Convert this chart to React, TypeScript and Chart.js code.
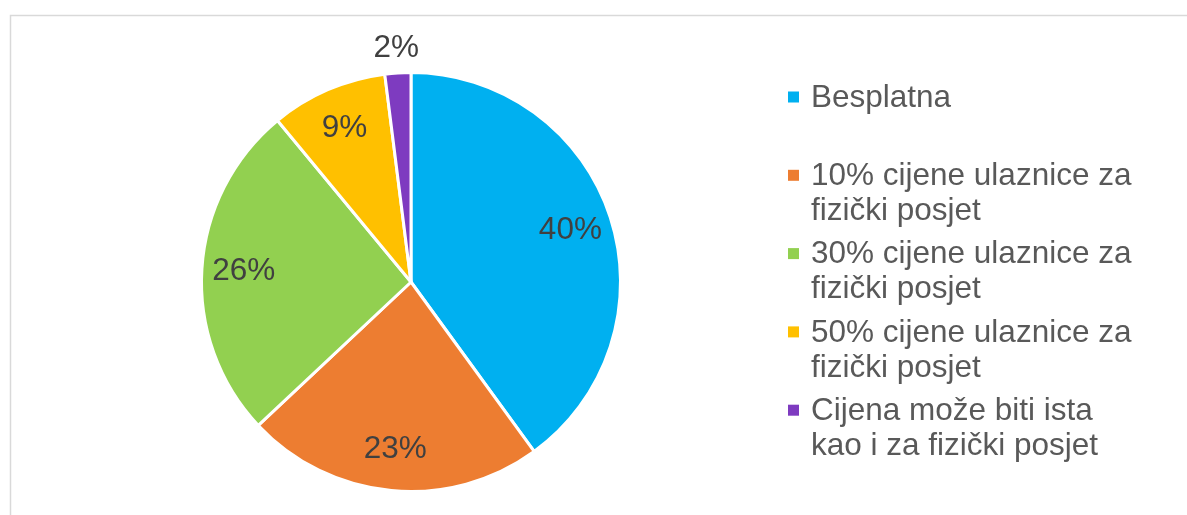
import React, { useEffect, useRef } from "react";
import { Chart, registerables } from "chart.js";

Chart.register(...registerables);

const categories = [
  "Besplatna",
  "10% cijene ulaznice za fizički posjet",
  "30% cijene ulaznice za fizički posjet",
  "50% cijene ulaznice za fizički posjet",
  "Cijena može biti ista kao i za fizički posjet",
];
const values = [40, 23, 26, 9, 2];
const valueLabels = ["40%", "23%", "26%", "9%", "2%"];
const colors = ["#00B0F0", "#ED7D31", "#92D050", "#FFC000", "#7E3BC0"];

const FONT = '"Liberation Sans", Arial, sans-serif';

const framePlugin = {
  id: "frame",
  beforeDraw(chart: any) {
    const ctx = chart.ctx;
    ctx.save();
    ctx.strokeStyle = "#d9d9d9";
    ctx.lineWidth = 1.5;
    ctx.beginPath();
    ctx.moveTo(10.5, chart.height);
    ctx.lineTo(10.5, 15.5);
    ctx.lineTo(chart.width, 15.5);
    ctx.stroke();
    ctx.restore();
  },
};

const labelPlugin = {
  id: "sliceLabels",
  afterDatasetsDraw(chart: any) {
    const ctx = chart.ctx;
    const meta = chart.getDatasetMeta(0);
    ctx.save();
    ctx.font = `31.5px ${FONT}`;
    ctx.fillStyle = "#404040";
    ctx.textAlign = "center";
    ctx.textBaseline = "middle";
    meta.data.forEach((arc: any, i: number) => {
      const p = arc.getProps(["x", "y", "startAngle", "endAngle", "outerRadius"], true);
      const mid = (p.startAngle + p.endAngle) / 2;
      const outside = values[i] < 5;
      const d = outside ? p.outerRadius + 25 : p.outerRadius * 0.8;
      ctx.fillText(valueLabels[i], p.x + Math.cos(mid) * d, p.y + Math.sin(mid) * d);
    });
    ctx.restore();
  },
};

function wrap(ctx: CanvasRenderingContext2D, text: string, maxWidth: number): string[] {
  const words = text.split(" ");
  const lines: string[] = [];
  let cur = "";
  for (const w of words) {
    const test = cur ? cur + " " + w : w;
    if (cur && ctx.measureText(test).width > maxWidth) {
      lines.push(cur);
      cur = w;
    } else {
      cur = test;
    }
  }
  if (cur) lines.push(cur);
  return lines;
}

const legendPlugin = {
  id: "wrappedLegend",
  afterDraw(chart: any) {
    const ctx = chart.ctx;
    ctx.save();
    ctx.font = `31.5px ${FONT}`;
    ctx.textAlign = "left";
    ctx.textBaseline = "middle";
    const markerX = 788;
    const textX = 811;
    const firstY = 97;
    const itemStep = 78.3;
    const lineStep = 35;
    categories.forEach((cat, i) => {
      const y0 = firstY + i * itemStep;
      ctx.fillStyle = colors[i];
      ctx.fillRect(markerX, y0 - 5.5, 11, 11);
      ctx.fillStyle = "#595959";
      const lines = wrap(ctx, cat, 332);
      lines.forEach((ln, j) => {
        ctx.fillText(ln, textX, y0 + 1 + j * lineStep);
      });
    });
    ctx.restore();
  },
};

export default function App() {
  const ref = useRef<HTMLCanvasElement>(null);
  useEffect(() => {
    if (!ref.current) return;
    const chart = new Chart(ref.current, {
      type: "pie",
      data: {
        labels: categories,
        datasets: [
          {
            data: values,
            backgroundColor: colors,
            borderColor: "#ffffff",
            borderWidth: 3,
          },
        ],
      },
      options: {
        animation: false,
        responsive: false,
        layout: { padding: { left: 200, right: 565, top: 71, bottom: 22 } },
        plugins: {
          legend: { display: false },
          tooltip: { enabled: false },
          title: { display: false },
        },
      },
      plugins: [framePlugin, labelPlugin, legendPlugin],
    });
    return () => chart.destroy();
  }, []);
  return (
    <div style={{ position: "fixed", left: 0, top: 0, width: 1187, height: 515, background: "#ffffff" }}>
      <canvas ref={ref} width={1187} height={515} style={{ display: "block", width: 1187, height: 515 }} />
    </div>
  );
}
